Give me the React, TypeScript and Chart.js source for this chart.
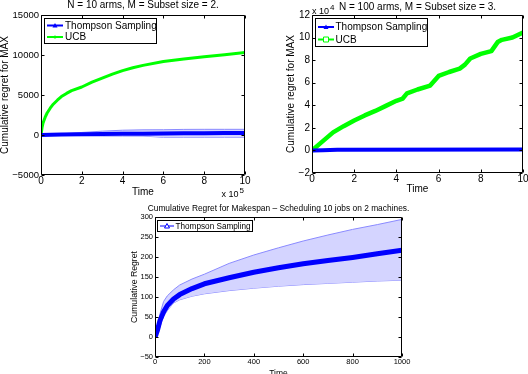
import React, { useEffect, useRef } from "react";
import { Chart, registerables } from "chart.js";
Chart.register(...registerables);

const W = 528;
const H = 374;
const FONT = "'Liberation Sans', Arial, Helvetica, sans-serif";
const BLUE = "#0000ff";
const GREEN = "#00ff00";
const BAND_FILL = "#d4d4ff";
const BAND_EDGE = "#8a8aff";

// ---------- Panel 1: N = 10 arms (time in units of 1e5) ----------
const p1Time = [0, 0.05, 0.1, 0.2, 0.3, 0.45, 0.6, 0.8, 1, 1.25, 1.5, 2, 2.5, 3, 3.5, 4, 4.5, 5, 6, 7, 8, 9, 10];
const p1Ucb = [0, 900, 1500, 2200, 2750, 3350, 3850, 4350, 4800, 5200, 5550, 6000, 6600, 7100, 7600, 8050, 8400, 8700, 9180, 9500, 9790, 10040, 10320];
const p1TsTime = [0, 1, 2, 3, 4, 5, 6, 7, 8, 9, 10];
const p1Ts = [0, 60, 100, 130, 150, 170, 190, 205, 220, 235, 250];
const p1TsUpper = [0, 150, 320, 480, 600, 650, 660, 700, 710, 710, 710];
const p1TsLower = [0, -40, -80, -125, -130, -130, -290, -290, -290, -290, -290];
const p1XTicks = [0, 2, 4, 6, 8, 10];
const p1YTicks = [-5000, 0, 5000, 10000, 15000];

// ---------- Panel 2: N = 100 arms (time 1e5, regret 1e4) ----------
const p2Time = [0, 0.5, 1, 1.5, 2, 2.5, 3, 3.5, 4, 4.3, 4.5, 5, 5.6, 6, 6.5, 7, 7.25, 7.5, 8, 8.5, 8.8, 9, 9.5, 10];
const p2Ucb = [0, 0.8, 1.6, 2.15, 2.65, 3.1, 3.5, 3.95, 4.4, 4.6, 5.05, 5.4, 5.75, 6.6, 6.95, 7.25, 7.6, 8.15, 8.55, 8.8, 9.6, 9.8, 10.0, 10.45];
const p2TsTime = [0, 0.5, 1.2, 10];
const p2Ts = [0, 0.02, 0.07, 0.08];
const p2XTicks = [0, 2, 4, 6, 8, 10];
const p2YTicks = [-2, 0, 2, 4, 6, 8, 10, 12];

// ---------- Panel 3: Makespan scheduling ----------
const p3Time = [0, 5, 10, 20, 35, 50, 75, 100, 150, 200, 300, 400, 500, 600, 700, 800, 900, 1000];
const p3Mean = [0, 8, 17, 41, 63, 79, 95, 106, 121, 133, 148, 162, 173, 183, 191, 199, 208, 217];
const p3Upper = [0, 10, 24, 58, 89, 103, 118, 130, 145, 157, 184, 205, 223, 240, 255, 269, 281, 294];
const p3Lower = [0, 3, 8, 25, 52, 66, 85, 93, 102, 108, 116, 122, 127, 131, 134, 137, 140, 142];
const p3XTicks = [0, 200, 400, 600, 800, 1000];
const p3YTicks = [-50, 0, 50, 100, 150, 200, 250, 300];

const pts = (xs: number[], ys: number[]) => xs.map((x, i) => ({ x, y: ys[i] }));
const fmt = (v: number) => (v < 0 ? "\u2212" + Math.abs(v) : String(v));

type Area = { l: number; t: number; r: number; b: number };
type Marker = "tri" | "triOpen" | "square" | "dot";
type LegendEntry = { label: string; color: string; width: number; marker: Marker };
type Panel = {
  area: Area;
  xTicks: number[];
  yTicks: number[];
  datasets: any[];
  xTickFont: number;
  yTickFont: number;
  tickLen: number;
  title: { text: string; y: number; size: number };
  xLabel: { text: string; y: number; size: number };
  yLabel: { text: string; x: number; size: number };
  exp?: { base: string; sup: string; x: number; y: number; align: "left" | "right"; size: number; supSize: number };
  legend: { dx: number; dy: number; w: number; h: number; size: number; rows: number[]; s0: number; s1: number; tx: number; entries: LegendEntry[] };
};

function drawMarker(ctx: CanvasRenderingContext2D, m: Marker, x: number, y: number, s: number, color: string) {
  ctx.save();
  ctx.strokeStyle = color;
  ctx.fillStyle = color;
  ctx.lineWidth = 1;
  ctx.beginPath();
  if (m === "tri" || m === "triOpen") {
    ctx.moveTo(x, y - s);
    ctx.lineTo(x + s, y + s * 0.8);
    ctx.lineTo(x - s, y + s * 0.8);
    ctx.closePath();
    if (m === "tri") ctx.fill();
    else {
      ctx.fillStyle = "#fff";
      ctx.fill();
      ctx.stroke();
    }
  } else if (m === "square") {
    ctx.rect(x - s, y - s, 2 * s, 2 * s);
    ctx.fillStyle = "#fff";
    ctx.fill();
    ctx.stroke();
  } else {
    ctx.arc(x, y, s, 0, Math.PI * 2);
    ctx.fill();
  }
  ctx.restore();
}

const decor = (p: Panel) => ({
  id: "decor",
  afterDraw(chart: any) {
    const ctx: CanvasRenderingContext2D = chart.ctx;
    const a = chart.chartArea;
    const xs = chart.scales.x;
    const ys = chart.scales.y;
    ctx.save();
    ctx.strokeStyle = "#000";
    ctx.lineWidth = 1;
    const L = Math.round(a.left) + 0.5;
    const R = Math.round(a.right) - 0.5;
    const T = Math.round(a.top) + 0.5;
    const B = Math.round(a.bottom) - 0.5;
    ctx.beginPath();
    ctx.rect(L, T, R - L, B - T);
    ctx.stroke();
    // inward ticks on all sides
    ctx.beginPath();
    p.xTicks.forEach((v) => {
      const px = Math.round(xs.getPixelForValue(v)) + 0.5;
      ctx.moveTo(px, B);
      ctx.lineTo(px, B - p.tickLen);
      ctx.moveTo(px, T);
      ctx.lineTo(px, T + p.tickLen);
    });
    p.yTicks.forEach((v) => {
      const py = Math.round(ys.getPixelForValue(v)) + 0.5;
      ctx.moveTo(L, py);
      ctx.lineTo(L + p.tickLen, py);
      ctx.moveTo(R, py);
      ctx.lineTo(R - p.tickLen, py);
    });
    ctx.stroke();

    ctx.fillStyle = "#000";
    ctx.textBaseline = "middle";
    // title
    ctx.textAlign = "center";
    ctx.font = `${p.title.size}px ${FONT}`;
    ctx.fillText(p.title.text, (a.left + a.right) / 2, p.title.y);
    // x label
    ctx.font = `${p.xLabel.size}px ${FONT}`;
    ctx.fillText(p.xLabel.text, (a.left + a.right) / 2, p.xLabel.y);
    // y label
    ctx.save();
    ctx.translate(p.yLabel.x, (a.top + a.bottom) / 2);
    ctx.rotate(-Math.PI / 2);
    ctx.font = `${p.yLabel.size}px ${FONT}`;
    ctx.fillText(p.yLabel.text, 0, 0);
    ctx.restore();
    // exponent
    if (p.exp) {
      const e = p.exp;
      ctx.textAlign = "left";
      ctx.font = `${e.size}px ${FONT}`;
      const w1 = ctx.measureText(e.base).width;
      ctx.font = `${e.supSize}px ${FONT}`;
      const w2 = ctx.measureText(e.sup).width;
      const x0 = e.align === "left" ? e.x : e.x - w1 - w2 - 1;
      ctx.font = `${e.size}px ${FONT}`;
      ctx.fillText(e.base, x0, e.y);
      ctx.font = `${e.supSize}px ${FONT}`;
      ctx.fillText(e.sup, x0 + w1 + 1, e.y - 4);
    }
    // legend
    const lg = p.legend;
    const lx = Math.round(a.left + lg.dx) + 0.5;
    const ly = Math.round(a.top + lg.dy) + 0.5;
    ctx.fillStyle = "#fff";
    ctx.fillRect(lx, ly, lg.w, lg.h);
    ctx.strokeStyle = "#000";
    ctx.lineWidth = 1;
    ctx.strokeRect(lx, ly, lg.w, lg.h);
    lg.entries.forEach((en, i) => {
      const ry = ly + lg.rows[i];
      ctx.strokeStyle = en.color;
      ctx.lineWidth = en.width;
      ctx.beginPath();
      ctx.moveTo(lx + lg.s0, ry);
      ctx.lineTo(lx + lg.s1, ry);
      ctx.stroke();
      drawMarker(ctx, en.marker, lx + (lg.s0 + lg.s1) / 2, ry, en.marker === "dot" ? 1.5 : 2.5, en.color);
      ctx.fillStyle = "#000";
      ctx.textAlign = "left";
      ctx.font = `${lg.size}px ${FONT}`;
      ctx.fillText(en.label, lx + lg.tx, ry + 0.5);
    });
    ctx.restore();
  },
});

function makeConfig(p: Panel): any {
  const x0 = p.xTicks[0];
  const x1 = p.xTicks[p.xTicks.length - 1];
  const y0 = p.yTicks[0];
  const y1 = p.yTicks[p.yTicks.length - 1];
  return {
    type: "line",
    data: { datasets: p.datasets },
    options: {
      animation: false,
      responsive: false,
      maintainAspectRatio: false,
      events: [],
      layout: { padding: { left: 0, top: p.area.t, right: W - p.area.r, bottom: 0 } },
      plugins: { legend: { display: false }, tooltip: { enabled: false }, title: { display: false } },
      elements: { point: { radius: 0 }, line: { tension: 0, borderJoinStyle: "round", borderCapStyle: "butt" } },
      scales: {
        x: {
          type: "linear",
          min: x0,
          max: x1,
          grid: { display: false, drawTicks: false, tickLength: 0 },
          border: { display: false },
          ticks: {
            autoSkip: false,
            maxRotation: 0,
            padding: 1,
            color: "#000",
            font: { family: FONT, size: p.xTickFont, lineHeight: 1 },
            callback: (v: number) => fmt(v),
          },
          afterBuildTicks: (s: any) => {
            s.ticks = p.xTicks.map((v) => ({ value: v }));
          },
          afterFit: (s: any) => {
            s.height = H - p.area.b;
            s.paddingLeft = 0;
            s.paddingRight = 0;
          },
        },
        y: {
          type: "linear",
          min: y0,
          max: y1,
          grid: { display: false, drawTicks: false, tickLength: 0 },
          border: { display: false },
          ticks: {
            autoSkip: false,
            padding: 2,
            color: "#000",
            font: { family: FONT, size: p.yTickFont, lineHeight: 1 },
            callback: (v: number) => fmt(v),
          },
          afterBuildTicks: (s: any) => {
            s.ticks = p.yTicks.map((v) => ({ value: v }));
          },
          afterFit: (s: any) => {
            s.width = p.area.l;
            s.paddingTop = 0;
            s.paddingBottom = 0;
          },
        },
      },
    },
    plugins: [decor(p)],
  };
}

const panel1: Panel = {
  area: { l: 41, t: 15, r: 245, b: 175 },
  xTicks: p1XTicks,
  yTicks: p1YTicks,
  datasets: [
    { label: "Thompson Sampling", data: pts(p1TsTime, p1Ts), borderColor: BLUE, borderWidth: 4, fill: false },
    { label: "UCB", data: pts(p1Time, p1Ucb), borderColor: GREEN, borderWidth: 3, fill: false },
    { label: "TS upper", data: pts(p1TsTime, p1TsUpper), borderColor: BAND_EDGE, borderWidth: 1, backgroundColor: BAND_FILL, fill: "+1" },
    { label: "TS lower", data: pts(p1TsTime, p1TsLower), borderColor: BAND_EDGE, borderWidth: 1, fill: false },
  ],
  xTickFont: 10,
  yTickFont: 9.5,
  tickLen: 3,
  title: { text: "N = 10 arms, M = Subset size = 2.", y: 5.5, size: 10 },
  xLabel: { text: "Time", y: 192, size: 10 },
  yLabel: { text: "Cumulative regret for MAX", x: 5.5, size: 10 },
  exp: { base: "x 10", sup: "5", x: 244, y: 195, align: "right", size: 9, supSize: 8 },
  legend: {
    dx: 3, dy: 2.5, w: 112, h: 25, size: 10, rows: [7, 18.5], s0: 2.5, s1: 18.5, tx: 20.5,
    entries: [
      { label: "Thompson Sampling", color: BLUE, width: 2, marker: "tri" },
      { label: "UCB", color: GREEN, width: 2, marker: "dot" },
    ],
  },
};

const panel2: Panel = {
  area: { l: 312, t: 15, r: 523, b: 173 },
  xTicks: p2XTicks,
  yTicks: p2YTicks,
  datasets: [
    { label: "Thompson Sampling", data: pts(p2TsTime, p2Ts), borderColor: BLUE, borderWidth: 4, fill: false },
    { label: "UCB", data: pts(p2Time, p2Ucb), borderColor: GREEN, borderWidth: 4.5, fill: false },
  ],
  xTickFont: 10,
  yTickFont: 10,
  tickLen: 3,
  title: { text: "N = 100 arms, M = Subset size = 3.", y: 7.5, size: 10 },
  xLabel: { text: "Time", y: 189, size: 10 },
  yLabel: { text: "Cumulative regret for MAX", x: 291, size: 10 },
  exp: { base: "x 10", sup: "4", x: 312, y: 11.5, align: "left", size: 9, supSize: 8 },
  legend: {
    dx: 2.5, dy: 3, w: 112, h: 28, size: 10, rows: [8.5, 21], s0: 2.5, s1: 18.5, tx: 20,
    entries: [
      { label: "Thompson Sampling", color: BLUE, width: 2, marker: "tri" },
      { label: "UCB", color: GREEN, width: 2, marker: "square" },
    ],
  },
};

const panel3: Panel = {
  area: { l: 155, t: 217, r: 402, b: 357 },
  xTicks: p3XTicks,
  yTicks: p3YTicks,
  datasets: [
    { label: "Thompson Sampling", data: pts(p3Time, p3Mean), borderColor: BLUE, borderWidth: 5, fill: false },
    { label: "upper", data: pts(p3Time, p3Upper), borderColor: BAND_EDGE, borderWidth: 1, backgroundColor: BAND_FILL, fill: "+1" },
    { label: "lower", data: pts(p3Time, p3Lower), borderColor: BAND_EDGE, borderWidth: 1, fill: false },
  ],
  xTickFont: 7.5,
  yTickFont: 7.5,
  tickLen: 3,
  title: { text: "Cumulative Regret for Makespan \u2013 Scheduling 10 jobs on 2 machines.", y: 208.5, size: 8.4 },
  xLabel: { text: "Time", y: 373.5, size: 8.5 },
  yLabel: { text: "Cumulative Regret", x: 135, size: 8.7 },
  legend: {
    dx: 1.5, dy: 3, w: 95, h: 11, size: 8.2, rows: [5.5], s0: 2.5, s1: 16.5, tx: 18,
    entries: [{ label: "Thompson Sampling", color: BLUE, width: 1, marker: "triOpen" }],
  },
};

function ChartCanvas({ panel }: { panel: Panel }) {
  const ref = useRef<HTMLCanvasElement>(null);
  useEffect(() => {
    const chart = new Chart(ref.current as HTMLCanvasElement, makeConfig(panel));
    return () => chart.destroy();
  }, [panel]);
  return (
    <canvas
      ref={ref}
      width={W}
      height={H}
      style={{ position: "absolute", left: 0, top: 0, width: W, height: H }}
    />
  );
}

export default function App() {
  return (
    <div style={{ position: "absolute", left: 0, top: 0, width: W, height: H, background: "#fff", overflow: "hidden" }}>
      <ChartCanvas panel={panel1} />
      <ChartCanvas panel={panel2} />
      <ChartCanvas panel={panel3} />
    </div>
  );
}
